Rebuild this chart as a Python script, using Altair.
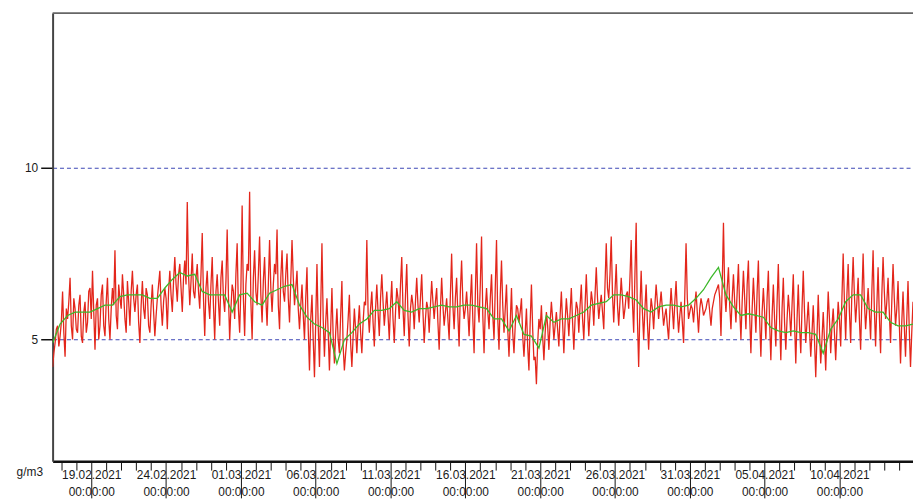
import altair as alt
import pandas as pd

# ---- data ----
red_start = "2021-02-16 10:00"
red_step = "2h"
red_values = [
    4.2, 4.6, 4.9, 5.3, 5.4, 4.8, 5.1,                          # 16.02 (from 10:00)
    5.5, 6.4, 5.2, 4.5, 5.9, 5.6, 6.1, 6.8, 5.4, 5.0, 6.2, 5.9,  # 17.02
    5.3, 5.2, 6.0, 6.3, 5.1, 4.9, 5.8, 6.1, 5.2, 5.5, 6.4, 6.5,  # 18.02
    5.6, 7.0, 5.8, 4.7, 6.0, 6.2, 5.0, 5.4, 6.3, 6.6, 5.4, 5.1,  # 19.02
    6.1, 6.8, 5.6, 5.0, 5.9, 6.5, 6.0, 7.6, 5.7, 5.3, 6.6, 6.2,  # 20.02
    5.9, 6.9, 6.3, 5.6, 5.2, 6.7, 6.1, 5.4, 6.4, 7.0, 6.2, 5.8,  # 21.02
    6.3, 6.6, 5.5, 4.9, 6.0, 6.7, 5.9, 5.6, 6.5, 6.3, 5.4, 5.2,  # 22.02
    6.0, 6.6, 5.8, 5.1, 5.7, 6.2, 6.6, 7.0, 6.0, 5.4, 6.1, 6.5,  # 23.02
    6.2, 5.3, 6.4, 7.0, 6.3, 5.8, 6.7, 7.4, 6.6, 6.1, 6.9, 7.2,  # 24.02
    6.5, 5.8, 6.8, 7.3, 6.6, 9.0, 6.9, 6.0, 6.7, 7.5, 6.4, 6.2,  # 25.02
    6.8, 7.2, 6.4, 5.9, 6.9, 8.1, 6.2, 5.1, 6.5, 7.0, 6.1, 5.6,  # 26.02
    6.6, 7.4, 6.0, 5.0, 6.4, 6.9, 6.1, 5.4, 6.8, 7.3, 6.2, 5.8,  # 27.02
    6.7, 8.2, 6.3, 5.0, 5.9, 6.6, 6.4, 5.6, 6.9, 7.8, 5.9, 5.2,  # 28.02
    6.5, 8.9, 6.2, 5.1, 6.6, 7.2, 7.0, 9.3, 6.1, 5.0, 6.8, 7.6,  # 01.03
    6.4, 6.0, 6.9, 8.0, 6.3, 5.5, 6.7, 7.4, 6.2, 5.4, 6.6, 7.9,  # 02.03
    6.5, 5.8, 6.6, 7.2, 6.9, 8.2, 6.0, 5.3, 6.8, 7.6, 6.4, 6.1,  # 03.03
    6.9, 7.5, 6.2, 5.5, 6.7, 7.9, 6.8, 6.0, 6.5, 7.0, 5.9, 5.3,  # 04.03
    6.0, 6.6, 5.7, 5.0, 6.2, 7.1, 5.3, 4.1, 5.6, 6.3, 5.0, 3.9,  # 05.03
    5.5, 7.2, 5.4, 4.2, 5.9, 7.8, 5.6, 4.5, 5.5, 6.2, 5.2, 4.1,  # 06.03
    5.3, 6.5, 5.1, 4.3, 5.2, 5.9, 5.0, 4.6, 5.7, 6.7, 4.8, 4.1,  # 07.03
    4.6, 5.0, 5.6, 6.3, 4.9, 4.2, 5.1, 5.9, 5.3, 4.6, 5.4, 6.0,  # 08.03
    5.2, 4.6, 5.5, 6.1, 6.0, 7.9, 5.8, 5.2, 5.9, 6.4, 5.5, 4.8,  # 09.03
    5.9, 6.6, 5.8, 5.1, 6.2, 6.9, 6.1, 5.4, 5.9, 6.4, 5.7, 5.0,  # 10.03
    6.0, 6.7, 5.6, 4.9, 5.8, 6.5, 6.2, 5.6, 6.6, 7.4, 5.9, 5.1,  # 11.03
    6.3, 7.2, 5.7, 4.8, 5.9, 6.3, 6.0, 5.3, 6.1, 6.8, 6.0, 5.5,  # 12.03
    6.2, 6.9, 5.8, 4.9, 5.6, 6.1, 5.9, 5.2, 6.0, 6.7, 6.1, 5.6,  # 13.03
    6.1, 6.5, 5.5, 4.7, 5.9, 6.8, 6.0, 5.4, 5.8, 6.2, 5.6, 5.0,  # 14.03
    6.3, 7.5, 6.0, 5.3, 6.2, 6.8, 5.7, 4.8, 6.4, 7.3, 6.1, 5.6,  # 15.03
    5.9, 6.4, 5.8, 5.1, 6.1, 6.9, 5.6, 4.6, 6.3, 7.8, 6.0, 5.5,  # 16.03
    6.6, 8.0, 5.7, 4.6, 5.9, 6.5, 5.8, 5.3, 6.2, 6.9, 5.7, 5.0,  # 17.03
    6.5, 7.9, 5.6, 4.7, 6.3, 7.3, 6.0, 5.2, 5.9, 6.6, 5.3, 4.5,  # 18.03
    5.5, 6.5, 5.2, 4.6, 5.4, 6.0, 5.9, 5.5, 5.8, 6.2, 5.1, 4.5,  # 19.03
    5.2, 5.9, 4.8, 4.1, 5.5, 6.6, 5.3, 4.4, 4.5, 3.7, 4.9, 5.6,  # 20.03
    5.3, 6.0, 5.1, 4.4, 5.2, 5.8, 5.4, 4.7, 5.5, 6.1, 5.6, 5.0,  # 21.03
    5.4, 5.8, 5.3, 4.8, 5.7, 6.4, 5.5, 4.6, 5.5, 6.2, 5.7, 5.1,  # 22.03
    5.8, 6.5, 5.5, 4.7, 5.6, 6.1, 5.9, 5.2, 6.0, 6.6, 5.6, 5.0,  # 23.03
    6.0, 6.9, 5.9, 5.1, 5.8, 6.4, 6.1, 5.4, 6.3, 7.1, 6.2, 5.6,  # 24.03
    6.0, 6.3, 5.8, 5.3, 6.6, 7.8, 6.5, 6.2, 6.9, 8.0, 6.3, 5.5,  # 25.03
    6.4, 7.2, 6.0, 5.4, 6.1, 6.8, 6.2, 5.6, 5.9, 6.3, 6.4, 5.9,  # 26.03
    6.8, 7.9, 6.1, 5.2, 6.9, 8.4, 5.6, 4.2, 5.9, 7.0, 5.8, 5.0,  # 27.03
    5.9, 6.6, 5.5, 4.7, 5.6, 6.2, 5.9, 5.3, 6.0, 6.6, 6.1, 5.6,  # 28.03
    6.0, 6.4, 5.9, 5.4, 5.7, 5.9, 5.4, 5.0, 5.8, 6.5, 5.9, 5.3,  # 29.03
    6.1, 6.7, 5.8, 5.2, 5.7, 6.1, 5.5, 4.9, 6.3, 7.8, 6.2, 5.6,  # 30.03
    5.8, 6.0, 5.9, 5.5, 6.0, 6.4, 5.8, 5.2, 5.9, 6.2, 6.0, 5.7,  # 31.03
    5.8, 5.9, 6.1, 6.2, 5.8, 5.4, 5.9, 6.1, 6.3, 6.4, 6.5, 6.6,  # 01.04
    6.2, 5.1, 6.6, 8.4, 6.4, 5.8, 6.5, 7.1, 6.0, 5.3, 6.2, 6.9,  # 02.04
    6.1, 5.5, 6.4, 7.2, 5.9, 5.0, 6.1, 7.0, 6.2, 5.3, 6.6, 7.3,  # 03.04
    5.7, 4.6, 5.9, 6.8, 6.0, 5.2, 6.4, 7.3, 5.6, 4.5, 5.8, 6.5,  # 04.04
    5.8, 5.0, 6.2, 7.0, 5.5, 4.4, 5.7, 6.6, 5.6, 4.8, 6.1, 7.2,  # 05.04
    5.6, 4.4, 5.9, 6.8, 5.5, 4.7, 5.6, 6.3, 5.8, 5.1, 6.0, 6.9,  # 06.04
    5.5, 4.3, 5.6, 6.6, 5.4, 4.6, 5.9, 7.0, 5.8, 4.9, 5.5, 6.1,  # 07.04
    5.3, 4.5, 5.2, 6.0, 5.0, 3.9, 5.1, 6.3, 5.2, 4.3, 5.0, 5.8,  # 08.04
    5.0, 4.1, 5.3, 6.4, 5.6, 4.6, 5.4, 5.9, 5.2, 4.4, 5.3, 6.1,  # 09.04
    5.6, 4.8, 6.2, 7.5, 6.1, 5.0, 6.3, 7.2, 5.8, 4.9, 6.4, 7.4,  # 10.04
    6.3, 5.5, 6.1, 6.8, 5.6, 4.7, 6.2, 7.5, 6.1, 5.3, 5.9, 6.5,  # 11.04
    5.8, 5.0, 6.4, 7.6, 5.9, 4.8, 6.0, 7.1, 5.7, 4.6, 6.3, 7.4,  # 12.04
    6.4, 5.6, 6.1, 6.8, 5.8, 4.9, 6.1, 7.2, 6.2, 5.4, 5.9, 6.7,  # 13.04
    5.5, 4.3, 5.5, 6.4, 5.4, 4.5, 5.6, 6.7, 5.3, 4.2, 5.2, 6.1,  # 14.04
]

green_start = "2021-02-16 10:00"
green_step = "12h"
green_values = [
    4.9, 5.45, 5.7, 5.8, 5.8, 5.8, 5.9, 6.0, 6.0, 6.25,
    6.3, 6.3, 6.3, 6.2, 6.2, 6.5, 6.75, 6.95, 6.85, 6.9,
    6.4, 6.3, 6.3, 6.3, 5.8, 6.3, 6.35, 6.1, 6.0, 6.35,
    6.45, 6.55, 6.6, 6.0, 5.65, 5.45, 5.35, 5.2, 4.3, 5.0,
    5.2, 5.45, 5.6, 5.85, 5.85, 5.9, 6.1, 5.85, 5.8, 5.9,
    5.9, 5.95, 6.0, 5.95, 5.95, 6.0, 6.0, 5.95, 5.9, 5.6,
    5.6, 5.25, 5.7, 5.15, 5.1, 4.75, 5.7, 5.5, 5.6, 5.6,
    5.7, 5.8, 6.0, 6.05, 6.1, 6.3, 6.3, 6.25, 6.15, 5.9,
    5.8, 5.95, 6.0, 6.0, 5.95, 6.0, 6.2, 6.45, 6.8, 7.1,
    6.3, 5.95, 5.7, 5.75, 5.7, 5.65, 5.35, 5.25, 5.2, 5.25,
    5.2, 5.2, 5.15, 4.6, 5.3, 5.6, 6.1, 6.3, 6.3, 5.9,
    5.8, 5.8, 5.5, 5.4, 5.4, 5.45,
]

y_ticks = [5, 10]
y_domain = [1.46, 14.5]
x_domain_start = alt.DateTime(year=2021, month=2, date=16, hours=10)
x_domain_end = alt.DateTime(year=2021, month=4, date=14, hours=22)
unit_label = "g/m3"
time_of_day_label = "00:00:00"

red_df = pd.DataFrame({
    "time": pd.date_range(red_start, periods=len(red_values), freq=red_step).strftime("%Y-%m-%d %H:%M"),
    "value": red_values,
})
green_df = pd.DataFrame({
    "time": pd.date_range(green_start, periods=len(green_values), freq=green_step).strftime("%Y-%m-%d %H:%M"),
    "value": green_values,
})
top_df = pd.DataFrame({"top": [y_domain[1]]})

is_major = "round((datum.value - datetime(2021, 1, 19)) / 86400000) % 5 == 0"

x_axis = alt.Axis(
    title=None,
    tickCount={"interval": "day", "step": 1},
    labelExpr=f"{is_major} ? [timeFormat(datum.value, '%d.%m.%Y'), '{time_of_day_label}'] : ''",
    labelOverlap=False,
    labelBound=False,
    labelFlush=False,
    labelFont="Liberation Sans",
    labelFontSize=12,
    labelColor="#1a1a1a",
    labelLineHeight=18,
    labelPadding=-29,
    tickSize={"condition": {"test": is_major, "value": 37}, "value": 9},
    tickColor="#111111",
    tickWidth=1,
    domainColor="#111111",
    domainWidth=2.5,
    grid=False,
)

y_axis = alt.Axis(
    values=y_ticks,
    title=unit_label,
    titleAngle=0,
    titleX=-23.5,
    titleY=462,
    titleAlign="center",
    titleBaseline="middle",
    titleFont="Liberation Sans",
    titleFontSize=12,
    titleFontWeight="normal",
    titleColor="#1a1a1a",
    labelFont="Liberation Sans",
    labelFontSize=12,
    labelColor="#1a1a1a",
    labelPadding=3,
    tickSize=12,
    tickColor="#111111",
    tickWidth=1.5,
    domainColor="#444444",
    domainWidth=2,
    grid=True,
    gridColor="#3b45b5",
    gridDash=[4, 3],
    gridWidth=1,
)

x_scale = alt.Scale(domain=[x_domain_start, x_domain_end], nice=False)
y_scale = alt.Scale(domain=y_domain, nice=False, zero=False)

red = alt.Chart(red_df).mark_line(color="#e3261b", strokeWidth=1.3, clip=True).encode(
    x=alt.X("time:T", scale=x_scale, axis=x_axis),
    y=alt.Y("value:Q", scale=y_scale, axis=y_axis),
)
green = alt.Chart(green_df).mark_line(color="#3cb82a", strokeWidth=1.3, clip=True).encode(
    x=alt.X("time:T", scale=x_scale, axis=x_axis),
    y=alt.Y("value:Q", scale=y_scale, axis=y_axis),
)
top = alt.Chart(top_df).mark_rule(color="#666666", strokeWidth=2).encode(
    y=alt.Y("top:Q", scale=y_scale, axis=y_axis),
)

chart = alt.layer(red, green, top).properties(
    width=868,
    height=452,
    autosize=alt.AutoSizeParams(type="none"),
    padding={"left": 45, "top": 3, "right": 0, "bottom": 37},
    background="white",
).configure_view(stroke=None)

chart.save("out.html", embed_options={"renderer": "svg", "actions": False})
